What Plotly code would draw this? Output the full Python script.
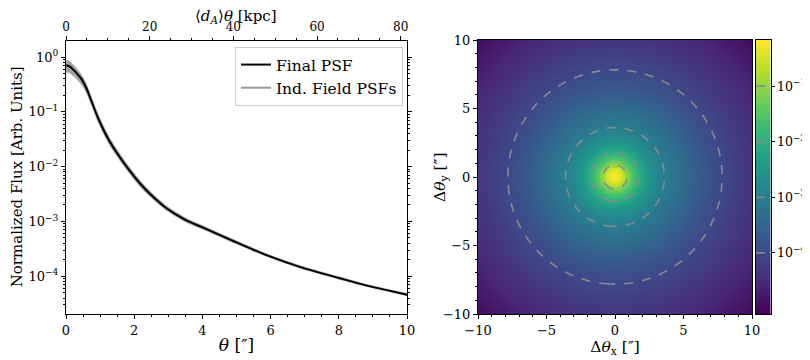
import numpy as np
import plotly.graph_objects as go

# radial PSF profile (arcsec, normalized flux)
theta = [0, 0.1, 0.25, 0.45, 0.6, 0.75, 0.95, 1.25, 1.55, 1.85, 2.15, 2.45, 2.95,
         3.5, 4.0, 4.9, 5.9, 6.9, 8.0, 8.8, 10.0, 12.0, 14.2]
psf = [0.71, 0.68, 0.56, 0.40, 0.27, 0.155, 0.075, 0.031, 0.0158, 8.7e-3, 5.1e-3,
       3.24e-3, 1.74e-3, 1.07e-3, 7.8e-4, 4.4e-4, 2.4e-4, 1.45e-4, 9.3e-5, 6.8e-5,
       4.6e-5, 2.4e-5, 1.1e-5]
# envelope of the individual field PSFs, as a ratio to the final PSF
field_hi = [1.24, 1.24, 1.22, 1.2, 1.19, 1.18, 1.18, 1.17, 1.16, 1.15, 1.14, 1.12,
            1.1, 1.09, 1.08, 1.07, 1.06, 1.06, 1.05, 1.05, 1.05, 1.05, 1.05]
field_lo = [0.75, 0.76, 0.78, 0.8, 0.82, 0.84, 0.85, 0.86, 0.87, 0.88, 0.88, 0.9,
            0.91, 0.92, 0.93, 0.94, 0.95, 0.95, 0.95, 0.96, 0.96, 0.96, 0.96]

kpc_per_arcsec = 8.15
contour_levels = [-4, -3, -2, -1]          # log10 flux
img_lo, img_hi = -5.1, -0.17               # colour scale limits (log10)
log_major = [1e-4, 1e-3, 1e-2, 1e-1, 1]
log_labels = ["10<sup>−4</sup>", "10<sup>−3</sup>", "10<sup>−2</sup>",
              "10<sup>−1</sup>", "10<sup>0</sup>"]

FONT = "DejaVu Serif"
W, H, PAD = 810, 360, 8   # page body adds an 8px margin around the plot


def xd(px):
    return (px - PAD) / W


def yd(py):
    return (H - (py - PAD)) / H


psf_a = np.array(psf)
band_hi = psf_a * np.array(field_hi)
band_lo = psf_a * np.array(field_lo)

fig = go.Figure()

# 1. Ind. field PSF band
fig.add_trace(go.Scatter(x=theta, y=band_lo, mode='lines',
                         line=dict(color='#9a9a9a', width=0.5, shape='spline', smoothing=0.8),
                         showlegend=False, hoverinfo='skip'))
fig.add_trace(go.Scatter(x=theta, y=band_hi, mode='lines', fill='tonexty',
                         fillcolor='#a0a0a0',
                         line=dict(color='#9a9a9a', width=0.5, shape='spline', smoothing=0.8),
                         showlegend=False, hoverinfo='skip'))
# 2. Final PSF
fig.add_trace(go.Scatter(x=theta, y=psf, mode='lines', name='Final PSF',
                         line=dict(color='black', width=2, shape='spline', smoothing=0.8)))
fig.add_trace(go.Scatter(x=[None], y=[None], mode='lines', name='Ind. Field PSFs',
                         line=dict(color='#9a9a9a', width=2)))
# dummy trace for the kpc axis
fig.add_trace(go.Scatter(x=[0, 10 * kpc_per_arcsec], y=[None, None], xaxis='x2',
                         yaxis='y', showlegend=False, hoverinfo='skip'))

# 3. 2D PSF image built from the radial profile
grid = np.linspace(-10, 10, 201)
gx, gy = np.meshgrid(grid, grid)
img = np.interp(np.hypot(gx, gy), theta, np.log10(psf))
fig.add_trace(go.Heatmap(x=grid, y=grid, z=img, colorscale='Viridis',
                         zmin=img_lo, zmax=img_hi, showscale=False,
                         xaxis='x3', yaxis='y3', hoverinfo='skip'))
fig.add_trace(go.Contour(x=grid, y=grid, z=img, showscale=False, showlegend=False,
                         contours=dict(start=contour_levels[0], end=contour_levels[-1],
                                       size=1, coloring='none'),
                         line=dict(color='#8a8a8a', dash='dash', width=1.6),
                         xaxis='x3', yaxis='y3', hoverinfo='skip'))

# 4. colour bar drawn as its own small axis
cb = np.linspace(img_lo, img_hi, 256)
fig.add_trace(go.Heatmap(x=[0, 1], y=cb, z=[[v, v] for v in cb], colorscale='Viridis',
                         zmin=img_lo, zmax=img_hi, showscale=False,
                         xaxis='x4', yaxis='y4', hoverinfo='skip'))
for lev in contour_levels:
    fig.add_shape(type='line', xref='x4 domain', yref='y4', x0=0, x1=1, y0=lev, y1=lev,
                  line=dict(color='#8a8a8a', dash='dash', width=1.6))

ax = dict(showgrid=False, zeroline=False, showline=True, linecolor='black', linewidth=1,
          ticks='outside', ticklen=4, tickcolor='black', automargin=False,
          tickfont=dict(family=FONT, size=13))
minor = dict(ticks='outside', ticklen=2, tickcolor='black')
left_y = [yd(314), yd(40.7)]
right_y = [yd(314), yd(40)]

fig.update_layout(
    width=W, height=H, margin=dict(l=0, r=0, t=0, b=0),
    paper_bgcolor='white', plot_bgcolor='white',
    font=dict(family=FONT, color='black'),
    xaxis=dict(ax, domain=[xd(66), xd(407)], anchor='y', range=[0, 10], dtick=2,
               mirror=True, minor=dict(minor, dtick=0.5),
               title=dict(text='<i>θ</i> [″]', font=dict(size=17), standoff=2)),
    xaxis2=dict(ax, overlaying='x', side='top', anchor='y', showline=False,
                range=[0, 10 * kpc_per_arcsec], dtick=20, minor=dict(minor, dtick=5),
                tickfont=dict(family=FONT, size=12)),
    yaxis=dict(ax, domain=left_y, anchor='x', type='log', range=[-4.69, 0.30],
               tickmode='array', tickvals=log_major, ticktext=log_labels, mirror='ticks',
               minor=dict(minor, tickmode='array',
                          tickvals=[k * 10.0 ** e for e in range(-5, 1) for k in range(2, 10)])),
    xaxis3=dict(ax, domain=[xd(478), xd(752)], anchor='y3', range=[-10, 10], dtick=5,
                mirror=True, minor=dict(minor, dtick=1),
                title=dict(text='Δ<i>θ</i><sub>x</sub> [″]', font=dict(size=15.5), standoff=2)),
    yaxis3=dict(ax, domain=right_y, anchor='x3', range=[-10, 10], dtick=5,
                mirror=True, minor=dict(minor, dtick=1)),
    xaxis4=dict(ax, domain=[xd(756), xd(770.5)], anchor='y4', range=[-0.5, 1.5], mirror=True,
                ticks='', showticklabels=False),
    yaxis4=dict(ax, domain=right_y, anchor='x4', side='right', mirror=True,
                range=[img_lo, img_hi], tickmode='array', tickvals=contour_levels,
                ticktext=log_labels[:4], ticklen=3, tickfont=dict(family=FONT, size=12.5)),
    legend=dict(x=xd(403), xanchor='right', y=yd(47), yanchor='top', bgcolor='white',
                bordercolor='#cccccc', borderwidth=1, font=dict(family=FONT, size=15.5),
                itemwidth=30, traceorder='normal', tracegroupgap=0),
)

# axis titles placed where the reference has them (kept inside the visible page)
fig.add_annotation(text='⟨<i>d<sub>A</sub></i>⟩<i>θ</i> [kpc]', xref='x domain', yref='paper',
                   x=0.5, y=yd(16.5), xanchor='center', yanchor='middle', showarrow=False,
                   font=dict(size=15))
fig.add_annotation(text='Normalized Flux [Arb. Units]', textangle=-90, xref='paper',
                   yref='paper', x=xd(17), y=sum(left_y) / 2, xanchor='center',
                   yanchor='middle', showarrow=False, font=dict(size=15))
fig.add_annotation(text='Δ<i>θ</i><sub>y</sub> [″]', textangle=-90, xref='paper',
                   yref='paper', x=xd(441), y=sum(right_y) / 2, xanchor='center',
                   yanchor='middle', showarrow=False, font=dict(size=15.5))

fig.write_html("out.html")
